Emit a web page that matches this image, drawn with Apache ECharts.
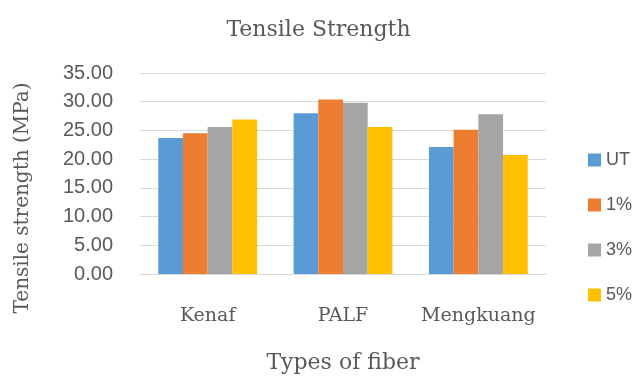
<!DOCTYPE html>
<html>
<head>
<meta charset="utf-8">
<script src="https://cdn.jsdelivr.net/npm/echarts@6/dist/echarts.min.js"></script>
<style>
html,body{margin:0;padding:0;background:#fff;}
#chart{width:637px;height:376px;}
</style>
</head>
<body>
<div id="chart"></div>
<script>
// Fiber types on the x axis
const categories = ['Kenaf', 'PALF', 'Mengkuang'];
// Tensile strength (MPa) per treatment
const seriesNames = ['UT', '1%', '3%', '5%'];
const valuesUT = [23.7, 28.0, 22.1];
const values1 = [24.5, 30.4, 25.1];
const values3 = [25.6, 29.8, 27.8];
const values5 = [26.9, 25.6, 20.7];
const colors = ['#5B9BD5', '#ED7D31', '#A5A5A5', '#FFC000'];

const serif = 'DejaVu Serif';
const sans = 'Liberation Sans';
const textColor = '#595959';

const allValues = [valuesUT, values1, values3, values5];

const chart = echarts.init(document.getElementById('chart'));
chart.setOption({
  animation: false,
  backgroundColor: '#fff',
  color: colors,
  title: {
    text: 'Tensile Strength',
    left: 'center',
    top: 14,
    textStyle: { fontFamily: serif, fontSize: 22, fontWeight: 'normal', color: textColor }
  },
  legend: {
    orient: 'vertical',
    left: 583,
    top: 146,
    itemGap: 27,
    itemWidth: 13,
    itemHeight: 13,
    icon: 'rect',
    textStyle: { fontFamily: sans, fontSize: 18, color: textColor }
  },
  // vertical axis title, placed beside the tick labels
  graphic: [{
    type: 'text',
    x: 13,
    y: 198,
    rotation: Math.PI / 2,
    style: {
      text: 'Tensile strength (MPa)',
      fontFamily: serif,
      fontSize: 20,
      fill: textColor,
      align: 'center',
      verticalAlign: 'top'
    }
  }],
  grid: { left: 140, right: 91, top: 73, bottom: 102, containLabel: false, outerBoundsMode: 'none' },
  xAxis: {
    type: 'category',
    data: categories,
    name: 'Types of fiber',
    nameLocation: 'middle',
    nameGap: 78,
    nameTextStyle: { fontFamily: serif, fontSize: 22, color: textColor },
    axisLine: { lineStyle: { color: '#D9D9D9', width: 1 } },
    axisTick: { show: false },
    axisLabel: { interval: 0, fontFamily: serif, fontSize: 19, color: textColor, margin: 33 }
  },
  yAxis: {
    type: 'value',
    min: 0,
    max: 35,
    interval: 5,
    axisLine: { show: false },
    axisTick: { show: false },
    axisLabel: {
      fontFamily: sans, fontSize: 20, color: textColor, margin: 27,
      formatter: v => v.toFixed(2)
    },
    splitLine: { lineStyle: { color: '#D9D9D9', width: 1 } }
  },
  series: seriesNames.map((name, i) => ({
    name: name,
    type: 'bar',
    data: allValues[i],
    barGap: '0%',
    barCategoryGap: '27%',
    itemStyle: { color: colors[i] }
  }))
});
</script>
</body>
</html>
